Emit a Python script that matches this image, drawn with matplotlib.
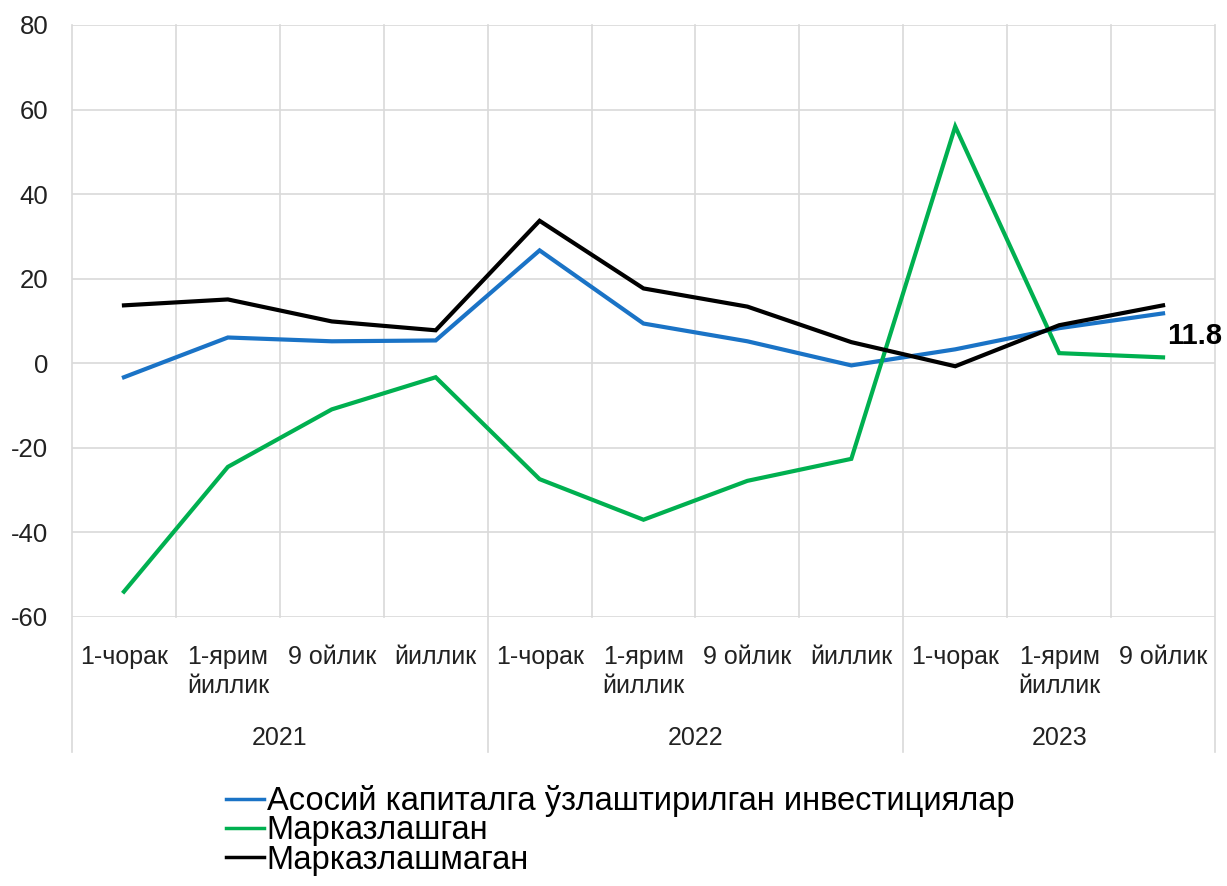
import matplotlib.pyplot as plt
from matplotlib.lines import Line2D
import matplotlib.transforms as mtransforms

plt.rcParams['font.family'] = ['Liberation Sans', 'DejaVu Sans']
plt.rcParams['axes.unicode_minus'] = False

# Категориялар
kategoriyalar = ["1-чорак", "1-ярим\nйиллик", "9 ойлик", "йиллик",
                 "1-чорак", "1-ярим\nйиллик", "9 ойлик", "йиллик",
                 "1-чорак", "1-ярим\nйиллик", "9 ойлик"]
yillar = ["2021", "2022", "2023"]
yil_uzunligi = [4, 4, 3]

# Қаторлар
asosiy = [-3.3, 6.1, 5.2, 5.4, 26.7, 9.4, 5.2, -0.5, 3.3, 8.3, 11.8]
markazlashgan = [-54.0, -24.5, -10.9, -3.3, -27.4, -37.0, -27.8, -22.6, 56.0, 2.4, 1.4]
markazlashmagan = [13.7, 15.1, 9.9, 7.8, 33.7, 17.7, 13.4, 5.0, -0.7, 9.0, 13.7]

nomlar = ["Асосий капиталга ўзлаштирилган инвестициялар", "Марказлашган", "Марказлашмаган"]
ranglar = ["#1a73c6", "#00b050", "#000000"]

fig = plt.figure(figsize=(12.27, 8.86), dpi=100)
ax = fig.add_axes([72 / 1227, 1 - 617 / 886, (1215 - 72) / 1227, (617 - 25) / 886])

x = list(range(len(kategoriyalar)))
for qiymat, nom, rang in zip([asosiy, markazlashgan, markazlashmagan], nomlar, ranglar):
    ax.plot(x, qiymat, color=rang, lw=3, label=nom, solid_joinstyle='miter')

# oxirgi qiymat
ax.annotate("11.8", (x[-1], asosiy[-1]), xytext=(3, -16), textcoords="offset points",
            fontsize=21, fontweight="bold", ha="left", va="center", annotation_clip=False)

ax.set_xlim(-0.5, len(kategoriyalar) - 0.5)
ax.set_ylim(-60, 80)
ax.set_yticks(range(-60, 81, 20))
ax.set_xticks(x)
ax.set_xticklabels(kategoriyalar, fontsize=18, linespacing=1.3, va="top")
ax.tick_params(axis="x", length=0, pad=20, colors="#222222")
ax.tick_params(axis="y", length=0, pad=17, labelsize=18.5, colors="#222222")
for s in ax.spines.values():
    s.set_visible(False)

gc = "#d9d9d9"
ax.grid(axis="y", color=gc, lw=1.2)
ax.set_axisbelow(True)

# vertikal chiziqlar
trans = mtransforms.blended_transform_factory(ax.transData, ax.transAxes)
chegaralar = [0]
for n in yil_uzunligi:
    chegaralar.append(chegaralar[-1] + n)
for i in range(len(kategoriyalar) + 1):
    xb = i - 0.5
    pastki = -0.228 if i in chegaralar else 0
    ax.add_line(Line2D([xb, xb], [pastki, 1], transform=trans, color=gc, lw=1.2,
                       clip_on=False, zorder=0))

# yillar
bosh = 0
for yil, n in zip(yillar, yil_uzunligi):
    ax.text(bosh + (n - 1) / 2, -0.204, yil, transform=trans, ha="center", va="center",
            fontsize=18, color="#222222")
    bosh += n

leg = fig.legend(loc="upper left", bbox_to_anchor=(226 / 1227, 1 - 785 / 886), frameon=False,
                 fontsize=23.5, handlelength=1.15, handletextpad=0.1, labelspacing=-0.05,
                 borderaxespad=0, borderpad=0)
for h in leg.legend_handles:
    h.set_linewidth(2.5)

fig.savefig("out.png", dpi=100, facecolor="white")
